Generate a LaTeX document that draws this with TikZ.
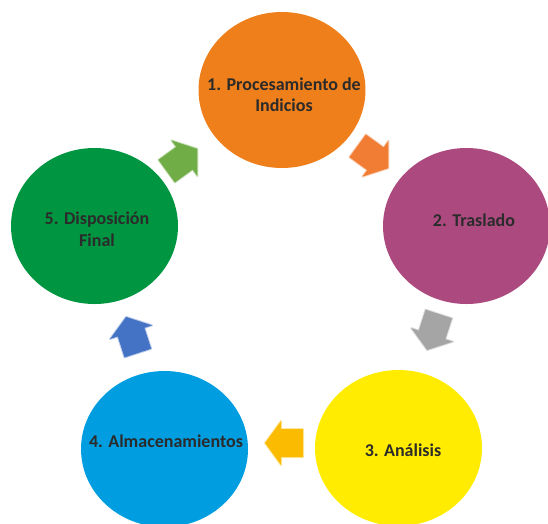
\documentclass[tikz,border=0pt]{standalone}
\usepackage{fontspec}
\setmainfont{Carlito}
\usetikzlibrary{shapes.geometric}
\definecolor{corange}{RGB}{239,127,26}
\definecolor{cpurple}{RGB}{172,74,128}
\definecolor{cyellow}{RGB}{255,236,0}
\definecolor{cblue}{RGB}{0,158,224}
\definecolor{cgreen}{RGB}{0,149,64}
\definecolor{aorange}{RGB}{240,125,51}
\definecolor{agray}{RGB}{165,165,165}
\definecolor{ayellow}{RGB}{250,187,0}
\definecolor{ablue}{RGB}{68,114,196}
\definecolor{agreen}{RGB}{112,173,71}
\definecolor{txt}{RGB}{43,43,43}
\tikzset{
  stage/.style={ellipse, minimum width=167pt, minimum height=156pt, inner sep=0pt, fill=#1},
  lbl/.style={anchor=base, text=txt, font=\fontsize{18}{21}\selectfont\bfseries, inner sep=0pt},
  cyc/.style={fill=#1, draw=#1, draw opacity=0.35, line width=2pt, line join=round}
}
\newcommand\cyclearrow[4]{%
  \filldraw[cyc=#4, shift={(#1,#2)}, rotate=#3]
    (-19,-14) -- (3,-14) -- (3,-22) -- (19,0) -- (3,22) -- (3,14) -- (-19,14) -- cycle;}
\begin{document}
\begin{tikzpicture}[x=1pt,y=-1pt]
\useasboundingbox (0,0) rectangle (548,523);
\begin{scope}
\clip (0,0) rectangle (548,523);
\node[stage=corange] (c1) at (282,90) {};
\node[stage=cpurple] (c2) at (466.5,226) {};
\node[stage=cyellow] (c3) at (398.5,448) {};
\node[stage=cblue] (c4) at (164.5,449) {};
\node[stage=cgreen] (c5) at (94.5,226) {};
\end{scope}
\node[lbl] (t1a) at (284,90) {1. Procesamiento de};
\node[lbl] (t1b) at (284,111.7) {Indicios};
\node[lbl] (t2) at (474,226.7) {2. Traslado};
\node[lbl] (t3) at (403,456) {3. Análisis};
\node[lbl] (t4) at (166,447.7) {4. Almacenamientos};
\node[lbl] (t5a) at (97,224.3) {5. Disposición};
\node[lbl] (t5b) at (97,246.7) {Final};
\cyclearrow{373}{157}{-36}{aorange}
\cyclearrow{433}{332}{-108}{agray}
\cyclearrow{284}{443}{180}{ayellow}
\cyclearrow{132}{335}{108}{ablue}
\cyclearrow{182}{160}{36}{agreen}
\end{tikzpicture}
\end{document}
